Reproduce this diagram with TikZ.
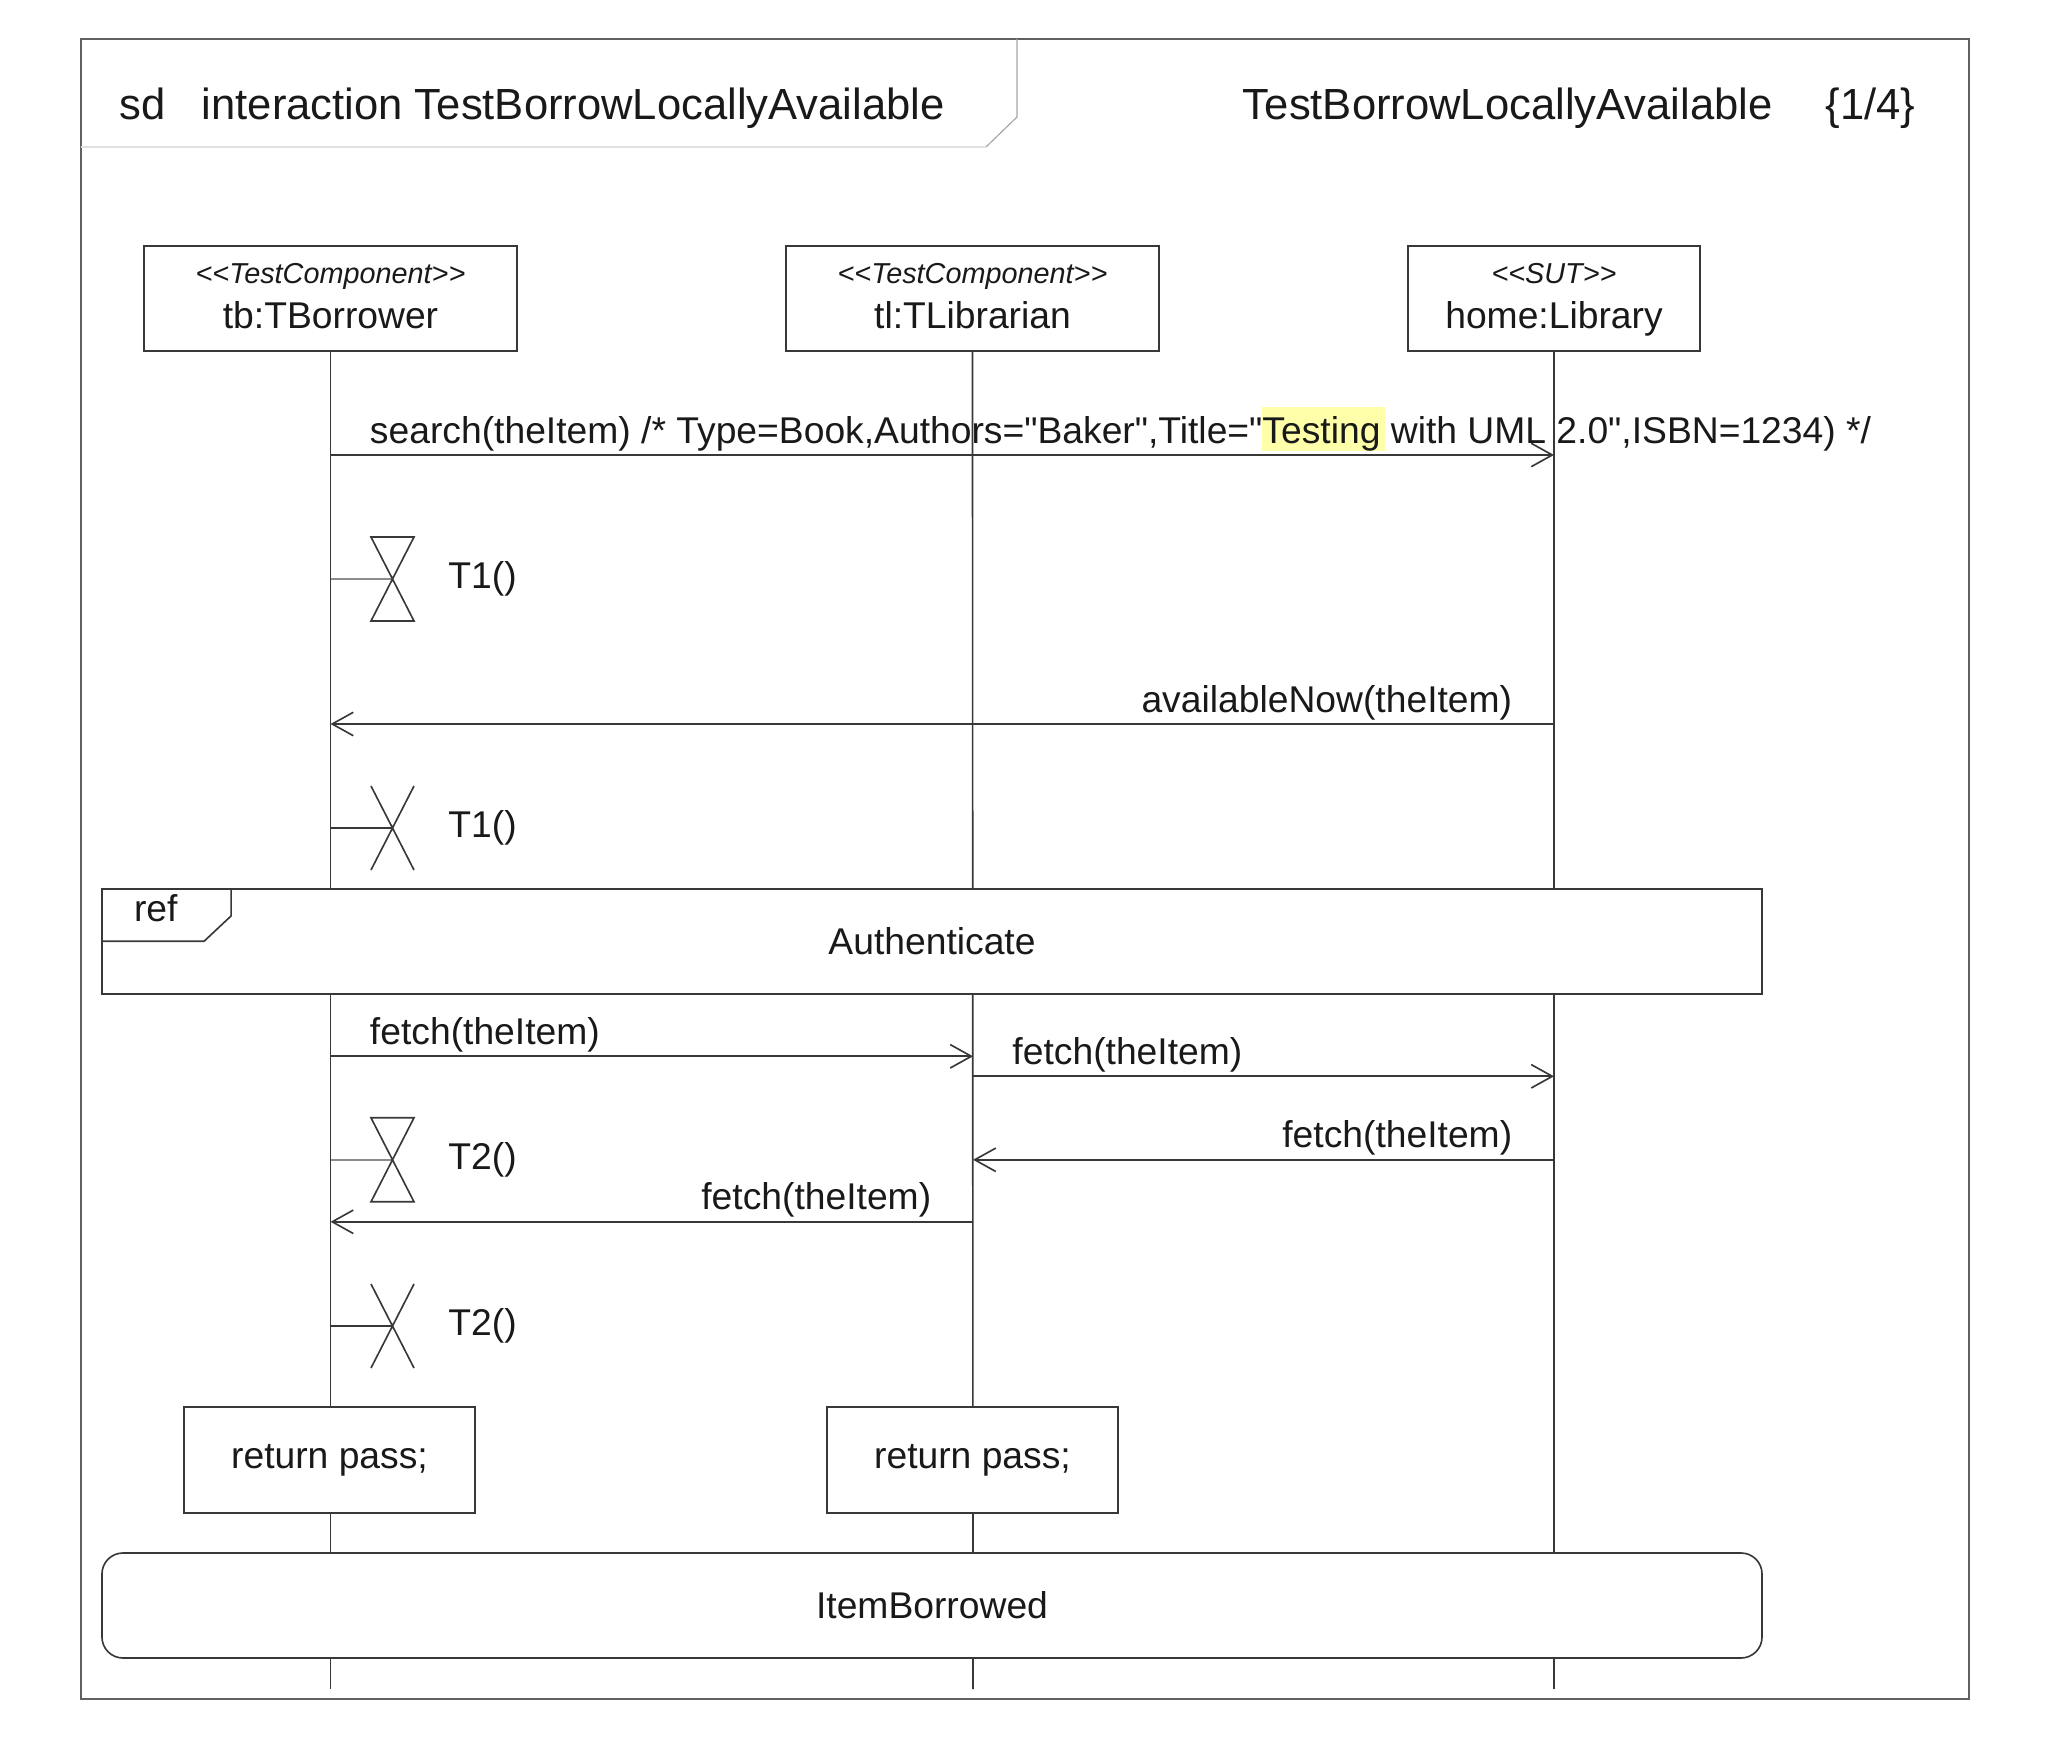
\documentclass[tikz,border=0pt]{standalone}
\usepackage{fontspec}
\usetikzlibrary{arrows.meta}
\newfontfamily\umlfont{Liberation Sans}
\newcommand\msgsize{\fontsize{15.9pt}{19pt}\selectfont}
\newcommand\headsize{\fontsize{18.6pt}{22pt}\selectfont}
\newcommand\stereosize{\fontsize{12.3pt}{14pt}\selectfont}
\definecolor{hilite}{RGB}{255,255,170}
\newcommand\hlword[1]{{\setlength\fboxsep{0pt}\colorbox{hilite}{\rule[-1pt]{0pt}{16.5pt}#1\kern2pt}\kern-2pt}}
\tikzset{
  umlline/.style={draw=black!78, line width=0.7pt},
  framepen/.style={draw=black!62, line width=0.7pt},
  headpen/.style={draw=black!35, line width=0.5pt},
  startpen/.style={draw=black!45, line width=0.7pt},
  msg/.style={umlline, -{Straight Barb[length=9pt,width=10pt]}},
  lblleft/.style={pos=0, anchor=base west, xshift=0.58cm, yshift=0.18cm},
  lblright/.style={pos=0, anchor=base east, xshift=-0.615cm, yshift=0.18cm},
  partbox/.style={umlline, fill=white, minimum height=1.575cm},
  stereo/.style={font=\umlfont\stereosize\itshape, anchor=base},
  retbox/.style={umlline, fill=white, minimum width=4.365cm, minimum height=1.59cm},
  refbox/.style={umlline, fill=white, minimum width=24.9cm, minimum height=1.575cm},
  headtext/.style={font=\umlfont\headsize, anchor=base west}
}
\begin{document}
\begin{tikzpicture}[x=0.015cm, y=-0.015cm,
  every node/.style={font=\umlfont\msgsize, text=black!90, inner sep=0pt}]
\useasboundingbox (0,0) rectangle (2050,1748);
% Frame and heading
\draw[framepen] (81,39) rectangle (1969,1699);
\draw[headpen] (1017,39) -- (1017,117) -- (986,147);
\draw[headpen, draw=black!12] (986,147) -- (81,147);
\node[headtext] (sd) at (119,120) {sd};
\node[headtext] (title) at (201.4,120) {interaction TestBorrowLocallyAvailable};
\node[headtext] (name) at (1242.5,120) {TestBorrowLocallyAvailable};
\node[headtext] (page) at (1825,120) {\{1/4\}};
% Define the lifeline ends
\coordinate (tb-end) at (330.5,1689);
\coordinate (tl-end) at (973,1689);
\coordinate (hm-end) at (1554,1689);
% Lifeline heads
\node[partbox, minimum width=5.595cm] (tb) at (330.5,298.5) {};
\node[partbox, minimum width=5.595cm] (tl) at (972.5,298.5) {};
\node[partbox, minimum width=4.371cm] (hm) at (1554,298.5) {};
\node[stereo] (tb-st) at (330.5,284) {<<TestComponent>>};
\node[stereo] (tl-st) at (972.5,284) {<<TestComponent>>};
\node[stereo] (hm-st) at (1554,284) {<<SUT>>};
\node[anchor=base] (tb-nm) at (330.5,329) {tb:TBorrower};
\node[anchor=base] (tl-nm) at (972.5,329) {tl:TLibrarian};
\node[anchor=base] (hm-nm) at (1554,329) {home:Library};
% Draw the lifelines
\draw[umlline] (tb.south) -- (tb-end);
\draw[umlline] (tl.south) -- (tl-end);
\draw[umlline] (hm.south) -- (hm-end);
% Message ends
\coordinate (tb-1) at (330.5,455);    \coordinate (hm-1) at (1554,455);
\coordinate (hm-2) at (1554,724);     \coordinate (tb-2) at (330.5,724);
\coordinate (tb-3) at (330.5,1056.3); \coordinate (tl-3) at (973,1056.3);
\coordinate (tl-4) at (973,1076.3);   \coordinate (hm-4) at (1554,1076.3);
\coordinate (hm-5) at (1554,1159.8);  \coordinate (tl-5) at (973,1159.8);
\coordinate (tl-6) at (973,1221.8);   \coordinate (tb-6) at (330.5,1221.8);
% Messages
\draw[msg] (tb-1) -- node[lblleft] (search) {search(theItem) /* Type=Book,Authors="Baker",Title="\hlword{Testing} with UML 2.0",ISBN=1234) */} (hm-1);
\draw[msg] (hm-2) -- node[lblright] (avail) {availableNow(theItem)} (tb-2);
\draw[msg] (tb-3) -- node[lblleft] (fetch-a) {fetch(theItem)} (tl-3);
\draw[msg] (tl-4) -- node[lblleft] (fetch-b) {fetch(theItem)} (hm-4);
\draw[msg] (hm-5) -- node[lblright] (fetch-c) {fetch(theItem)} (tl-5);
\draw[msg] (tl-6) -- node[lblright] (fetch-d) {fetch(theItem)} (tb-6);
% Timers started
\foreach \ty/\tlabel/\tid in {579/T1()/tsa, 1159.8/T2()/tsb} {
  \coordinate (\tid-life) at (330.5,\ty);
  \coordinate (\tid) at (392.5,\ty);
  \draw[startpen] (\tid-life) -- (\tid);
  \draw[umlline] (\tid) ++(-21.5,-42) -- ++(43,0) -- ++(-43,84) -- ++(43,0) -- cycle;
  \node[anchor=west] (\tid-lbl) at (448,\ty) {\tlabel};
}
% Timers stopped
\foreach \ty/\tlabel/\tid in {828/T1()/tpa, 1326/T2()/tpb} {
  \coordinate (\tid-life) at (330.5,\ty);
  \coordinate (\tid) at (392.5,\ty);
  \draw[umlline] (\tid-life) -- (\tid);
  \draw[umlline] (\tid) ++(-21.5,-42) -- ++(43,84) (\tid) ++(21.5,-42) -- ++(-43,84);
  \node[anchor=west] (\tid-lbl) at (448,\ty) {\tlabel};
}
% Interaction use
\node[refbox] (auth) at (932,941.5) {Authenticate};
\draw[umlline] (auth.north west) ++(0,53) -- ++(103,0) -- ++(27,-25.3) -- ++(0,-27.7);
\node[anchor=base west] (ref) at (133.6,921) {ref};
% Verdicts
\node[retbox] (tb-ret) at (329.5,1460) {return pass;};
\node[retbox] (tl-ret) at (972.5,1460) {return pass;};
% Final state
\node[refbox, rounded corners=0.315cm] (done) at (932,1605.5) {ItemBorrowed};
\end{tikzpicture}
\end{document}
